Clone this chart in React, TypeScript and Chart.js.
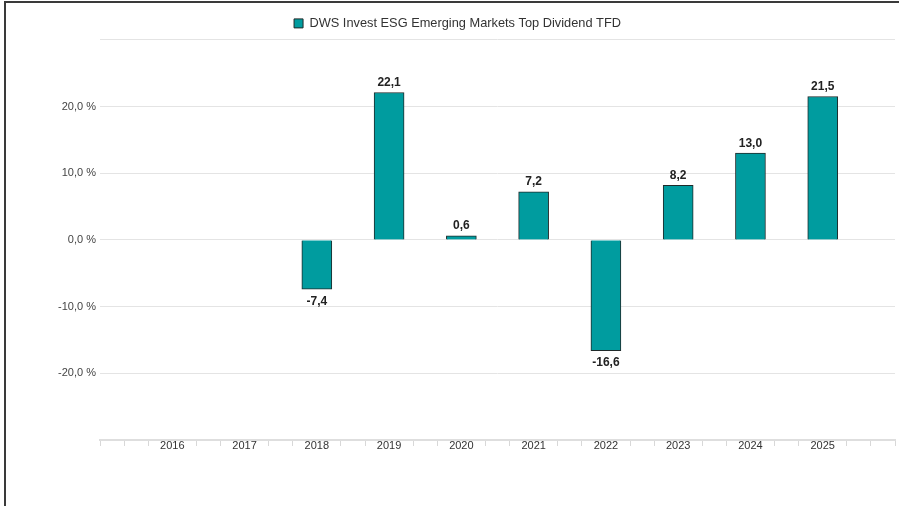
import React, { useEffect, useRef } from "react";
import { Chart, registerables } from "chart.js";

Chart.register(...registerables);

const years = ["2016", "2017", "2018", "2019", "2020", "2021", "2022", "2023", "2024", "2025"];
const values: (number | null)[] = [null, null, -7.4, 22.1, 0.6, 7.2, -16.6, 8.2, 13.0, 21.5];
const seriesName = "DWS Invest ESG Emerging Markets Top Dividend TFD";
const yTicks = [-30, -20, -10, 0, 10, 20, 30];

const FONT = 'Arial, "Liberation Sans", Helvetica, sans-serif';
const TEAL = "#009c9f";
const BORDER = "#1f2a2a";

const fmt = (v: number) => v.toFixed(1).replace(".", ",");

const valueLabels = {
  id: "valueLabels",
  afterDatasetsDraw(chart: any) {
    const ctx = chart.ctx;
    const meta = chart.getDatasetMeta(0);
    ctx.save();
    ctx.font = `bold 12px ${FONT}`;
    ctx.fillStyle = "#222";
    ctx.textAlign = "center";
    ctx.textBaseline = "alphabetic";
    meta.data.forEach((bar: any, i: number) => {
      const v = values[i];
      if (v == null) return;
      const y = v >= 0 ? bar.y - 6.5 : bar.y + 15.5;
      ctx.fillText(fmt(v), bar.x, y);
    });
    ctx.restore();
  },
};

export default function App() {
  const ref = useRef<HTMLCanvasElement>(null);
  useEffect(() => {
    if (!ref.current) return;
    // x positions in thirds of a category: one phantom slot on each side
    const points = years.map((yr, i) => ({ x: (i + 1) * 3, y: values[i] }));
    const xMax = (years.length + 1) * 3;
    const chart = new Chart(ref.current, {
      type: "bar",
      data: {
        datasets: [
          {
            label: seriesName,
            data: points as any,
            backgroundColor: TEAL,
            borderColor: BORDER,
            borderWidth: 1,
            barThickness: 30,
          },
        ],
      },
      options: {
        responsive: false,
        animation: false,
        devicePixelRatio: 1,
        layout: { padding: { top: 6, left: 20, right: 4, bottom: 0 } },
        plugins: {
          tooltip: { enabled: false },
          legend: {
            position: "top",
            maxHeight: 34,
            labels: {
              boxWidth: 9,
              boxHeight: 9,
              padding: 11,
              color: "#333",
              font: { family: FONT, size: 12.8 },
            },
          },
        },
        scales: {
          x: {
            type: "linear",
            offset: false,
            min: 0,
            max: xMax,
            afterFit: (s: any) => {
              s.height = 66;
            },
            ticks: {
              stepSize: 1,
              autoSkip: false,
              maxRotation: 0,
              padding: -7,
              color: "#333",
              font: { family: FONT, size: 11 },
              callback: (v: any) => {
                const n = Math.round(Number(v));
                if (n % 3 === 0 && n > 0 && n < xMax) return years[n / 3 - 1];
                return "";
              },
            },
            grid: {
              offset: false,
              drawOnChartArea: false,
              drawTicks: true,
              tickLength: 6,
              color: (c: any) => {
                const n = Math.round(Number(c.tick?.value));
                if (n % 3 === 0 && n > 0 && n < xMax) return "rgba(0,0,0,0)";
                return "#d8d8d8";
              },
              lineWidth: 1,
            },
            border: { display: true, color: "#dedede", width: 2 },
          },
          y: {
            min: yTicks[0],
            max: yTicks[yTicks.length - 1],
            afterFit: (s: any) => {
              s.width = 80;
            },
            afterBuildTicks: (s: any) => {
              s.ticks = yTicks.map((v) => ({ value: v }));
            },
            ticks: {
              padding: 4,
              color: "#444",
              font: { family: FONT, size: 11 },
              callback: (v: any) => {
                const n = Number(v);
                if (n === yTicks[0] || n === yTicks[yTicks.length - 1]) return "";
                return fmt(n) + " %";
              },
            },
            grid: {
              drawTicks: false,
              color: "#e4e4e4",
              lineWidth: 1,
            },
            border: { display: false },
          },
        },
      },
      plugins: [valueLabels],
    });
    return () => chart.destroy();
  }, []);

  return (
    <div style={{ position: "fixed", left: 0, top: 0, width: 899, height: 506, background: "#fff" }}>
      <canvas
        ref={ref}
        width={899}
        height={506}
        style={{ position: "absolute", left: 0, top: 0, width: 899, height: 506 }}
      />
      <div
        style={{
          position: "absolute",
          left: 4,
          top: 1,
          right: 0,
          bottom: 0,
          borderLeft: "2px solid #3a3a3a",
          borderTop: "2px solid #3a3a3a",
          pointerEvents: "none",
        }}
      />
    </div>
  );
}
